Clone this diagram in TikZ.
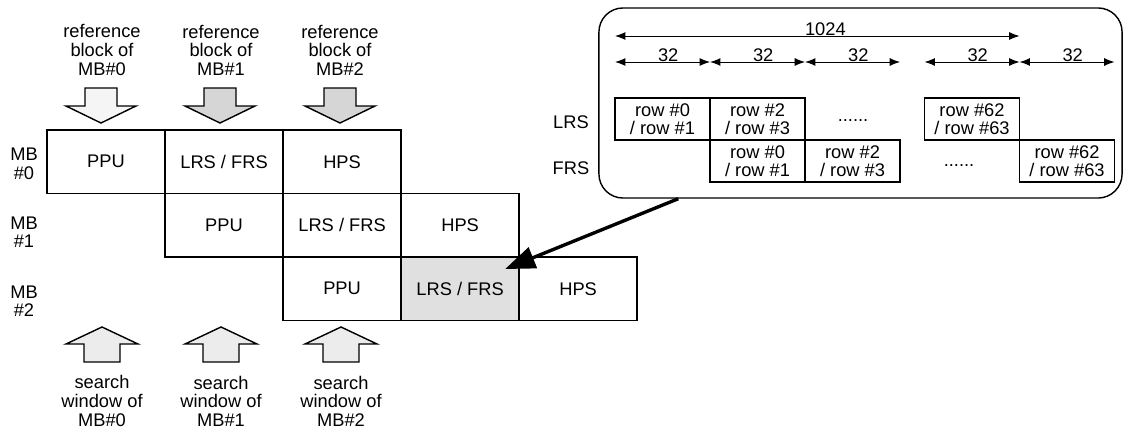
\documentclass[tikz,border=0pt]{standalone}
\usepackage{fontspec}
\setmainfont{Liberation Sans}
\usepackage{tikz}
\usetikzlibrary{positioning,arrows.meta,calc}
\definecolor{cShade}{RGB}{214,214,214}
\definecolor{cCell}{RGB}{224,224,224}
\definecolor{cLight}{RGB}{236,236,236}

\begin{document}
\begin{tikzpicture}[x=0.025cm,y=-0.025cm,font=\fontsize{13}{13.2}\selectfont,
  stagebox/.style={draw,line width=1pt,minimum width=2.95cm,minimum height=1.5875cm,inner sep=0pt,outer sep=0pt},
  rowbox/.style={draw,line width=1pt,minimum width=2.375cm,minimum height=1.05cm,inner sep=0pt,outer sep=0pt,align=center},
  sidelabel/.style={align=center,inner sep=0pt},
  dimarrow/.style={line width=0.7pt,{Latex[length=2.6mm,width=2mm]}-{Latex[length=2.6mm,width=2mm]}},
  dimtext/.style={anchor=base,inner sep=0pt,pos=0.56}]
 \useasboundingbox (0,0) rectangle (1128,433);
 % ---- pipeline of the three macroblocks ----
 \node[stagebox] (ppu0) at (106,161.75) {PPU};
 \node[stagebox,right=0pt of ppu0] (lrs0) {LRS / FRS};
 \node[stagebox,right=0pt of lrs0] (hps0) {HPS};
 \node[stagebox,below right=0pt of ppu0] (ppu1) {PPU};
 \node[stagebox,right=0pt of ppu1] (lrs1) {LRS / FRS};
 \node[stagebox,right=0pt of lrs1] (hps1) {HPS};
 \node[stagebox,below right=0pt of ppu1] (ppu2) {PPU};
 \node[stagebox,right=0pt of ppu2,fill=cCell] (lrs2) {LRS / FRS};
 \node[stagebox,right=0pt of lrs2] (hps2) {HPS};
 % row labels
 \node[sidelabel] (mb0) at (24,164) {MB\\\#0};
 \node[sidelabel] (mb1) at (24,232) {MB\\\#1};
 \node[sidelabel] (mb2) at (24,301) {MB\\\#2};
 % ---- reference blocks (top) ----
 \node[sidelabel] (ref0) at (102,50) {reference\\block of\\MB\#0};
 \node[sidelabel] (ref1) at (221,50) {reference\\block of\\MB\#1};
 \node[sidelabel] (ref2) at (340,50) {reference\\block of\\MB\#2};
 \filldraw[line width=1pt,fill=cLight!50] (85,88) -- ++(32,0) -- ++(0,18) -- ++(19,0) -- ++(-35,17) -- ++(-35,-17) -- ++(19,0) -- cycle;
 \filldraw[line width=1pt,fill=cShade] (204,88) -- ++(32,0) -- ++(0,18) -- ++(19,0) -- ++(-35,17) -- ++(-35,-17) -- ++(19,0) -- cycle;
 \filldraw[line width=1pt,fill=cShade] (324,88) -- ++(32,0) -- ++(0,18) -- ++(19,0) -- ++(-35,17) -- ++(-35,-17) -- ++(19,0) -- cycle;
 % ---- search windows (bottom) ----
 \filldraw[line width=1pt,fill=cLight] (84,362) -- ++(36,0) -- ++(0,-18) -- ++(18,0) -- ++(-36,-17) -- ++(-36,17) -- ++(18,0) -- cycle;
 \filldraw[line width=1pt,fill=cLight] (203,362) -- ++(36,0) -- ++(0,-18) -- ++(18,0) -- ++(-36,-17) -- ++(-36,17) -- ++(18,0) -- cycle;
 \filldraw[line width=1pt,fill=cLight] (323,362) -- ++(36,0) -- ++(0,-18) -- ++(18,0) -- ++(-36,-17) -- ++(-36,17) -- ++(18,0) -- cycle;
 \node[sidelabel] (win0) at (102,401) {search\\window of\\MB\#0};
 \node[sidelabel] (win1) at (221,401) {search\\window of\\MB\#1};
 \node[sidelabel] (win2) at (341,401) {search\\window of\\MB\#2};
 % ---- buffer layout panel ----
 \node[draw,line width=1pt,rounded corners=0.6cm,minimum width=13.075cm,minimum height=4.75cm,inner sep=0pt] (panel) at (860.5,103) {};
 \node (lrstag) at (571,122) {LRS};
 \node (frstag) at (571,168) {FRS};
 \node[rowbox] (lrsrow0) at (662.5,119) {row \#0\\/ row \#1};
 \node[rowbox,right=0pt of lrsrow0] (lrsrow1) {row \#2\\/ row \#3};
 \node[rowbox] (lrsrow31) at (972,119) {row \#62\\/ row \#63};
 \node[rowbox,below=0pt of lrsrow1] (frsrow0) {row \#0\\/ row \#1};
 \node[rowbox,right=0pt of frsrow0] (frsrow1) {row \#2\\/ row \#3};
 \node[rowbox,below right=0pt of lrsrow31] (frsrow31) {row \#62\\/ row \#63};
 \node[inner sep=0pt] (lrsdots) at (853,121) {......};
 \node[inner sep=0pt] (frsdots) at (959,166) {......};
 % dimensions
 \coordinate (toprow) at (0,36);
 \coordinate (dimrow) at (0,62);
 \draw[dimarrow] (lrsrow0.west |- toprow) -- node[dimtext,pos=0.52] {1024} (lrsrow31.east |- toprow);
 \draw[dimarrow] (lrsrow0.west |- dimrow) -- node[dimtext] {32} (lrsrow0.east |- dimrow);
 \draw[dimarrow] (lrsrow1.west |- dimrow) -- node[dimtext] {32} (lrsrow1.east |- dimrow);
 \draw[dimarrow] (frsrow1.west |- dimrow) -- node[dimtext] {32} (frsrow1.east |- dimrow);
 \draw[dimarrow] (lrsrow31.west |- dimrow) -- node[dimtext] {32} (lrsrow31.east |- dimrow);
 \draw[dimarrow] (frsrow31.west |- dimrow) -- node[dimtext] {32} (frsrow31.east |- dimrow);
 % ---- pointer from panel to the shaded stage ----
 \coordinate (armfrom) at ($(panel.south west)+(80,0)$);
 \coordinate (armto) at ($(lrs2.north east)+(-14,12)$);
 \draw[line width=2.4pt,-{Triangle[length=7.5mm,width=5.5mm]}] (armfrom) -- (armto);
\end{tikzpicture}
\end{document}
